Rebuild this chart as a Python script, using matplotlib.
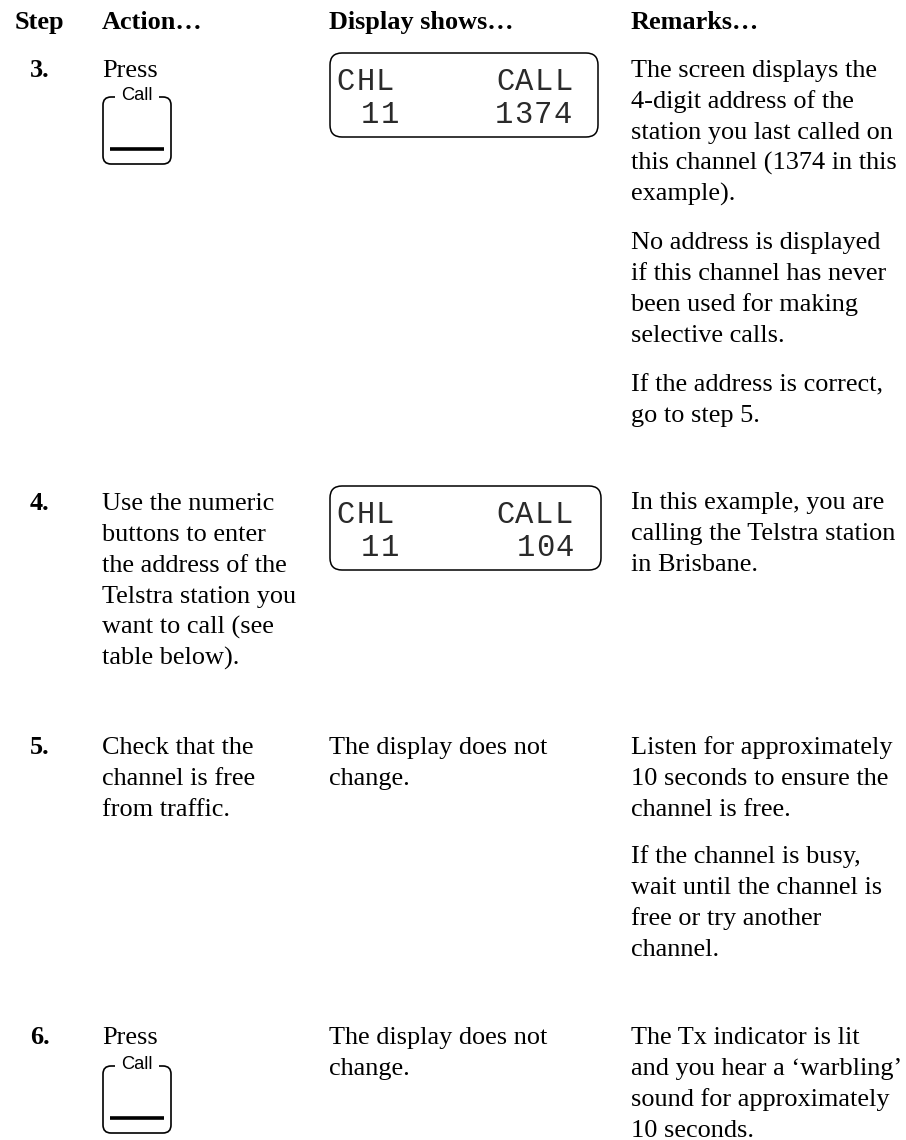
import matplotlib
matplotlib.use("Agg")
import matplotlib.pyplot as plt
from matplotlib.patches import FancyBboxPatch, Rectangle

# Data
headers = ["Step", "Action…", "Display shows…", "Remarks…"]
steps = ["3.", "4.", "5.", "6."]
actions = [
    ["Press"],
    ["Use the numeric", "buttons to enter", "the address of the", "Telstra station you", "want to call (see", "table below)."],
    ["Check that the", "channel is free", "from traffic."],
    ["Press"],
]
display_notes = ["The display does not", "change."]
remarks = [
    ["The screen displays the", "4-digit address of the", "station you last called on", "this channel (1374 in this", "example)."],
    ["No address is displayed", "if this channel has never", "been used for making", "selective calls."],
    ["If the address is correct,", "go to step 5."],
    ["In this example, you are", "calling the Telstra station", "in Brisbane."],
    ["Listen for approximately", "10 seconds to ensure the", "channel is free."],
    ["If the channel is busy,", "wait until the channel is", "free or try another", "channel."],
    ["The Tx indicator is lit", "and you hear a ‘warbling’", "sound for approximately", "10 seconds."],
]
lcd_channel = ["CHL", "11"]
lcd_calls = [["CALL", "1374"], ["CALL", "104"]]
button_label = "Call"

# Layout, in pixels of the page
step_rows = [77, 510, 754, 1044]
remark_rows = [77, 249, 391, 509, 754, 863, 1044]
lcd_tops = [53, 486]
button_tops = [97, 1066]
line_h = 31.0
serif = "Liberation Serif"
size = 18.9

fig = plt.figure(figsize=(9.06, 11.4), dpi=100)
ax = fig.add_axes([0, 0, 1, 1])
ax.set_xlim(0, 906)
ax.set_ylim(1140, 0)
ax.axis("off")


def para(x, y, lines, **kw):
    for i, line in enumerate(lines):
        ax.text(x, y + i * line_h, line, family=serif, fontsize=size, va="baseline", color="black", **kw)


def lcd_word(x, y, word, pitch=19.5):
    # one text per character so the spacing stays like the display cells
    for i, ch in enumerate(word):
        ax.text(x + i * pitch, y, ch, family="Liberation Mono", fontsize=22, ha="center", va="baseline", color="#2a2a2a")


def lcd(top, width, call_lines, call_x):
    ax.add_patch(FancyBboxPatch((330 + 10, top + 10), width - 20, 84 - 20, boxstyle="round,pad=10,rounding_size=12",
                                fc="none", ec="black", lw=1.1))
    lcd_word(346, top + 37, lcd_channel[0])
    lcd_word(370, top + 70, lcd_channel[1])
    lcd_word(505, top + 37, call_lines[0])
    lcd_word(call_x, top + 70, call_lines[1])


def button(top):
    ax.add_patch(FancyBboxPatch((103 + 8, top + 8), 68 - 16, 67 - 16, boxstyle="round,pad=8,rounding_size=8",
                                fc="none", ec="black", lw=1.2))
    ax.add_patch(Rectangle((115, top - 3), 44, 6, fc="white", ec="none", zorder=3))
    ax.text(136.5, top + 3, button_label, family="Liberation Sans", fontsize=13.2, ha="center", va="baseline", zorder=4)
    ax.plot([110, 164], [top + 52, top + 52], color="black", lw=2.6, solid_capstyle="butt")


# Header row
for x, h in zip([15, 102, 329, 631], headers):
    ax.text(x, 29, h, family=serif, fontsize=size, fontweight="bold", va="baseline")

# Steps and actions
for y, s, a in zip(step_rows, steps, actions):
    ax.text(30, y, s, family=serif, fontsize=size, fontweight="bold", va="baseline")
    para(102, y, a)

para(329, step_rows[2], display_notes)
para(329, step_rows[3], display_notes)

for y, r in zip(remark_rows, remarks):
    para(631, y, r)

lcd(lcd_tops[0], 268, lcd_calls[0], 504)
lcd(lcd_tops[1], 271, lcd_calls[1], 526)
for t in button_tops:
    button(t)

fig.savefig("out.png", dpi=100)
